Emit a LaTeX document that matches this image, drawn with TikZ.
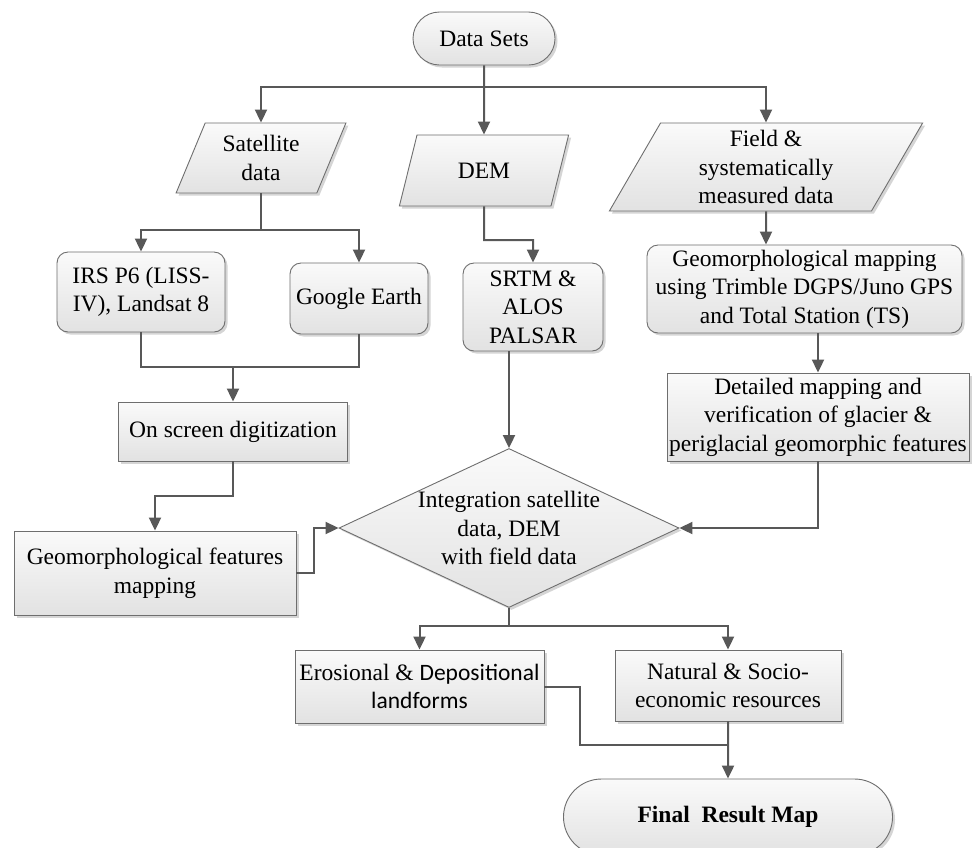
\documentclass[tikz,border=0pt]{standalone}
\usepackage{fontspec}
\setmainfont{Liberation Serif}
\newfontfamily\carl{Carlito}
\usetikzlibrary{shapes.geometric,shapes.misc,arrows.meta,shadows}
\definecolor{bordc}{RGB}{110,110,110}
\definecolor{linec}{RGB}{88,88,88}
\definecolor{ftop}{RGB}{250,250,250}
\definecolor{fbot}{RGB}{226,226,226}
\definecolor{shadc}{RGB}{185,185,185}
\tikzset{
  base/.style={draw=bordc, line width=0.9pt, top color=ftop, bottom color=fbot,
    drop shadow={shadow xshift=2.5pt, shadow yshift=-2.5pt, fill=shadc, opacity=0.6},
    align=center, inner sep=0pt, text=black,
    font=\fontsize{23.5}{28.5}\selectfont},
  sz/.style 2 args={minimum width=#1pt, minimum height=#2pt},
  rbox/.style={base, rectangle, rounded corners=11pt},
  sbox/.style={base, rectangle},
  para/.style={base, trapezium, trapezium left angle=66, trapezium right angle=114,
    trapezium stretches=true},
  term/.style={base, rounded rectangle},
  dec/.style={base, diamond, aspect=2.14},
  conn/.style={draw=linec, line width=2pt},
  arr/.style={conn, -{Triangle[length=13pt,width=12pt]}},
}
\begin{document}
\begin{tikzpicture}[x=1pt, y=-1pt]
\fill[white] (0,0) rectangle (976,847);
\useasboundingbox (0,0) rectangle (976,847);

\node[term, sz={142}{53}] (ds) at (484,38.5) {Data Sets};
\node[para, sz={170}{70}] (sat) at (261,158) {Satellite\\data};
\node[para, sz={170}{71}] (dem) at (484,170.5) {DEM};
\node[para, sz={314}{88}] (fld) at (766,167) {Field \&\\systematically\\measured data};
\node[rbox, sz={168}{80}] (irs) at (141,292) {IRS P6 (LISS-\\IV), Landsat 8};
\node[rbox, sz={138}{71}] (ge) at (359,298.5) {Google Earth};
\node[rbox, sz={140}{88}] (srtm) at (533,307) {SRTM \&\\ALOS\\PALSAR};
\node[rbox, sz={315}{88}] (gmap) at (804.5,289) {Geomorphological mapping\\using Trimble DGPS/Juno GPS\\and Total Station (TS)};
\node[sbox, sz={229}{59}] (osd) at (233,431.5) {On screen digitization};
\node[sbox, sz={302}{88}] (det) at (818,417) {Detailed mapping and\\verification of glacier \&\\periglacial geomorphic features};
\node[dec, sz={340}{159}] (dia) at (509,528) {Integration satellite\\data, DEM\\with field data};
\node[sbox, sz={282}{84}] (gfm) at (155,573) {Geomorphological features\\mapping};
\node[sbox, sz={249}{73}] (ero) at (419.5,686.5) {Erosional \& {\carl Depositional}\\{\carl landforms}};
\node[sbox, sz={226}{71}] (nat) at (728,685.5) {Natural \& Socio-\\economic resources};
\node[term, sz={329}{76}] (fin) at (728,817) {\textbf{Final\ \ Result Map}};

\coordinate (j1) at (484,87);
\coordinate (j2) at (261,230);
\coordinate (j3) at (233,367);
\coordinate (j4) at (484,240);
\coordinate (j5) at (233,496);
\coordinate (j6) at (314,550);
\coordinate (j7) at (509,626);
\coordinate (j8) at (580,720);
\coordinate (j9) at (728,745);

\draw[conn] (ds) -- (j1);
\draw[arr] (j1) -| (sat);
\draw[arr] (j1) -- (dem);
\draw[arr] (j1) -| (fld);

\draw[conn] (sat) -- (j2);
\draw[arr] (j2) -| (irs);
\draw[arr] (j2) -| (ge);

\draw[conn] (irs) |- (j3) -| (ge);
\draw[arr] (j3) -- (osd);

\draw[arr] (dem) -- (j4) -| (srtm);
\draw[arr] (srtm.south -| dia) -- (dia);

\draw[arr] (fld) -- (fld |- gmap.north);
\draw[arr] (gmap.south -| det) -- (det);
\draw[arr] (det) |- (dia.east);

\draw[arr] (osd) -- (j5) -| (gfm);
\draw[arr] (gfm.east) -| (j6) |- (dia.west);

\draw[conn] (dia) -- (j7);
\draw[arr] (j7) -| (ero);
\draw[arr] (j7) -| (nat);

\draw[conn] (ero.east) -| (j8) |- (j9);
\draw[arr] (nat) -- (fin);
\end{tikzpicture}
\end{document}
